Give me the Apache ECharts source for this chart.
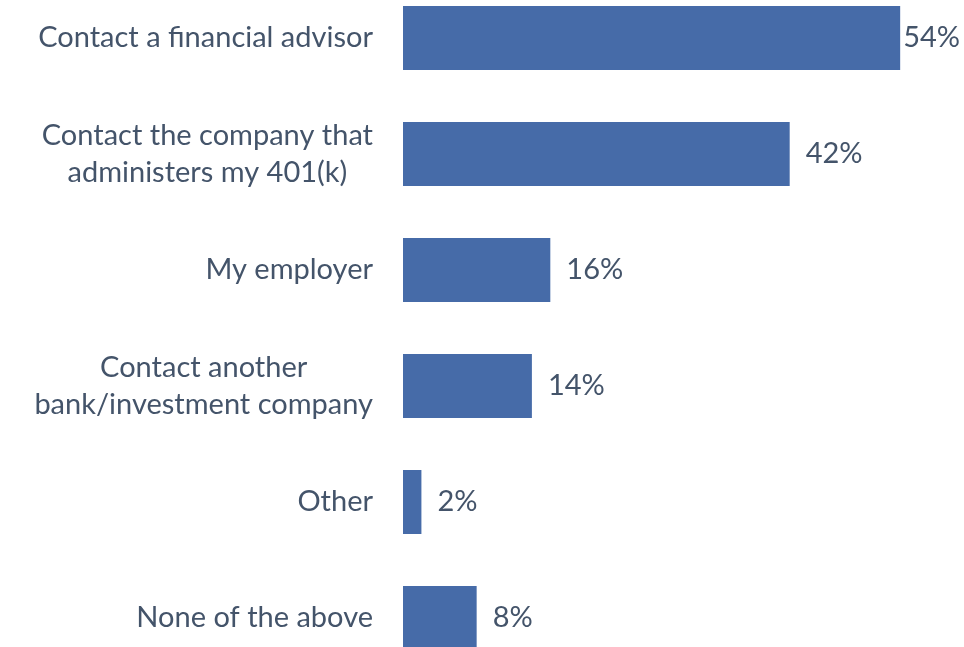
<!DOCTYPE html>
<html>
<head>
<meta charset="utf-8">
<script src="https://cdn.jsdelivr.net/npm/echarts@6/dist/echarts.min.js"></script>
<style>
  html, body { margin: 0; padding: 0; background: #ffffff; }
  #chart { width: 964px; height: 647px; }
</style>
</head>
<body>
<div id="chart"></div>
<script>
// Responses, listed top to bottom
const categories = [
  'Contact a financial advisor',
  'Contact the company that\nadministers my 401(k)',
  'My employer',
  'Contact another\nbank/investment company',
  'Other',
  'None of the above'
];
// Share of respondents, percent
const values = [54, 42, 16, 14, 2, 8];

const TEXT = '#44546A';
const BAR = '#466BA8';
const FONT = 'Lato, "Open Sans", sans-serif';
const SIZE = 29;

const chart = echarts.init(document.getElementById('chart'), null, { renderer: 'canvas' });

chart.setOption({
  animation: false,
  backgroundColor: '#ffffff',
  // category centres sit on the grid edges (boundaryGap: false)
  grid: { left: 403, width: 534, top: 38, bottom: 29, containLabel: false },
  xAxis: {
    type: 'value',
    min: 0,
    max: 58,
    show: false
  },
  yAxis: {
    type: 'category',
    inverse: true,
    boundaryGap: false,
    data: categories,
    axisLine: { show: false },
    axisTick: { show: false },
    splitLine: { show: false },
    axisLabel: {
      margin: 30,
      color: TEXT,
      fontFamily: FONT,
      fontSize: SIZE,
      lineHeight: 37,
      formatter: function (v) {
        if (v.indexOf('\n') < 0) return v;
        return v.split('\n').map(function (s) { return '{c|' + s + '}'; }).join('\n');
      },
      rich: {
        c: {
          align: 'center',
          color: TEXT,
          fontFamily: FONT,
          fontSize: SIZE,
          lineHeight: 37
        }
      }
    }
  },
  series: [{
    type: 'bar',
    clip: false,
    data: values.map(function (v, i) {
      return i === 0 ? { value: v, label: { distance: 3 } } : v;
    }),
    barWidth: 64,
    itemStyle: { color: BAR },
    label: {
      show: true,
      position: 'right',
      distance: 16,
      color: TEXT,
      fontFamily: FONT,
      fontSize: SIZE,
      formatter: '{c}%'
    }
  }]
});
</script>
</body>
</html>
